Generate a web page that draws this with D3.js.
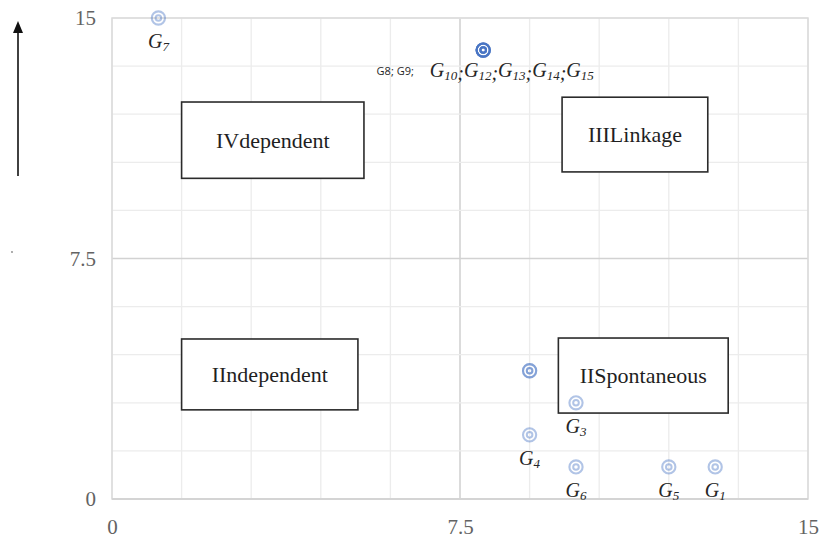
<!DOCTYPE html>
<html>
<head>
<meta charset="utf-8">
<script src="https://cdnjs.cloudflare.com/ajax/libs/d3/7.8.5/d3.min.js"></script>
<style>
  html, body { margin: 0; padding: 0; background: #ffffff; }
  svg { display: block; }
</style>
</head>
<body>
<script>
// ---------- data ----------
const pointNames = ["G1", "G2", "G3", "G4", "G5", "G6", "G7", "G8", "G9", "G10", "G11", "G12", "G13", "G14", "G15"];
const pointX     = [13,   9,    10,   9,    12,   10,   1,    8,    8,    8,     9,     8,     8,     8,     8];
const pointY     = [1,    4,    3,    2,    1,    1,    15,   14,   14,   14,    4,     14,    14,    14,    14];

// single labels (point name -> shown label)
const singleLabels = ["G1", "G3", "G4", "G5", "G6", "G7"];
// combined label at the G8..G15 cluster
const clusterSmall = ["G8", "G9"];
const clusterItalic = ["G10", "G12", "G13", "G14", "G15"];

const xTickValues = [0, 7.5, 15];
const yTickValues = [0, 7.5, 15];
const tickLabels  = ["0", "7.5", "15"];

// quadrant boxes (in data units)
const boxNames = ["IVdependent", "IIILinkage", "IIndependent", "IISpontaneous"];
const boxX0 = [1.5, 9.7, 1.5, 9.62];
const boxX1 = [5.43, 12.84, 5.3, 13.28];
const boxY0 = [10.0, 10.2, 2.78, 2.68];
const boxY1 = [12.38, 12.53, 4.99, 5.02];

// ---------- drawing ----------
const W = 819, H = 540;
const svg = d3.select("body").append("svg").attr("width", W).attr("height", H);

const x = d3.scaleLinear().domain([0, 15]).range([112, 808]);
const y = d3.scaleLinear().domain([0, 15]).range([499, 18]);

const grid = d3.range(0, 15.001, 1.5);

// gridlines
svg.append("g").selectAll("line.v").data(grid).join("line")
  .attr("x1", d => x(d)).attr("x2", d => x(d))
  .attr("y1", y(15)).attr("y2", y(0))
  .attr("stroke", d => d === 7.5 ? "#d2d2d2" : "#ececec")
  .attr("stroke-width", d => d === 7.5 ? 1.6 : 1.3);
svg.append("g").selectAll("line.h").data(grid).join("line")
  .attr("y1", d => y(d)).attr("y2", d => y(d))
  .attr("x1", x(0)).attr("x2", x(15))
  .attr("stroke", d => d === 7.5 ? "#d2d2d2" : "#ececec")
  .attr("stroke-width", d => d === 7.5 ? 1.6 : 1.3);

// frame
svg.append("rect")
  .attr("x", x(0)).attr("y", y(15))
  .attr("width", x(15) - x(0)).attr("height", y(0) - y(15))
  .attr("fill", "none").attr("stroke", "#dadada").attr("stroke-width", 1.5);
svg.append("line")
  .attr("x1", x(0)).attr("x2", x(15)).attr("y1", y(0)).attr("y2", y(0))
  .attr("stroke", "#d4d4d4").attr("stroke-width", 2);

// axes (tick labels only)
const xAxis = d3.axisBottom(x).tickValues(xTickValues)
  .tickFormat((d, i) => tickLabels[i]).tickSize(0).tickPadding(20);
const gx = svg.append("g").attr("transform", `translate(0,${y(0)})`).call(xAxis);
gx.select(".domain").remove();
gx.selectAll("text").attr("font-family", "'Liberation Serif', 'Times New Roman', serif")
  .attr("font-size", 21).attr("fill", "#636363");

const yAxis = d3.axisLeft(y).tickValues(yTickValues)
  .tickFormat((d, i) => tickLabels[i]).tickSize(0).tickPadding(16);
const gy = svg.append("g").attr("transform", `translate(${x(0)},0)`).call(yAxis);
gy.select(".domain").remove();
gy.selectAll("text").attr("font-family", "'Liberation Serif', 'Times New Roman', serif")
  .attr("font-size", 21).attr("fill", "#636363");

// quadrant boxes
const boxes = svg.append("g").selectAll("g").data(boxNames).join("g");
boxes.append("rect")
  .attr("x", (d, i) => x(boxX0[i])).attr("y", (d, i) => y(boxY1[i]))
  .attr("width", (d, i) => x(boxX1[i]) - x(boxX0[i]))
  .attr("height", (d, i) => y(boxY0[i]) - y(boxY1[i]))
  .attr("fill", "#ffffff").attr("stroke", "#2b2b2b").attr("stroke-width", 1.6);
boxes.append("text")
  .attr("x", (d, i) => (x(boxX0[i]) + x(boxX1[i])) / 2)
  .attr("y", (d, i) => (y(boxY0[i]) + y(boxY1[i])) / 2)
  .attr("dy", "0.35em")
  .attr("text-anchor", "middle")
  .attr("font-family", "'Liberation Serif', 'Times New Roman', serif")
  .attr("font-size", 22).attr("fill", "#1f1f1f")
  .text(d => d);

// points: double-ring markers, translucent so overlaps darken
const pts = svg.append("g").selectAll("g").data(pointNames).join("g")
  .attr("transform", (d, i) => `translate(${x(pointX[i])},${y(pointY[i])})`);
pts.append("circle").attr("r", 6.6).attr("fill", "none")
  .attr("stroke", "#4472c4").attr("stroke-opacity", 0.42).attr("stroke-width", 2.1);
pts.append("circle").attr("r", 2.8).attr("fill", "none")
  .attr("stroke", "#4472c4").attr("stroke-opacity", 0.42).attr("stroke-width", 2);

// single labels
const labelFont = "'Liberation Serif', 'Times New Roman', serif";
singleLabels.forEach(name => {
  const i = pointNames.indexOf(name);
  const t = svg.append("text")
    .attr("x", x(pointX[i])).attr("y", y(pointY[i]) + 30)
    .attr("text-anchor", "middle")
    .attr("font-family", labelFont).attr("font-style", "italic")
    .attr("font-size", 20).attr("fill", "#262626");
  t.append("tspan").text(name[0]);
  t.append("tspan").attr("font-size", 13).attr("dy", 3).text(name.slice(1));
});

// cluster label
{
  const i = pointNames.indexOf("G10");
  const t = svg.append("text")
    .attr("x", x(pointX[i]) + 2).attr("y", y(pointY[i]) + 27)
    .attr("text-anchor", "middle")
    .attr("fill", "#262626");
  t.append("tspan").attr("font-family", "'Open Sans', 'DejaVu Sans', sans-serif")
    .attr("font-size", 11).attr("dy", -2)
    .text(clusterSmall.map(g => g + ";").join(" "));
  clusterItalic.forEach((g, k) => {
    t.append("tspan").attr("font-family", labelFont).attr("font-style", "italic")
      .attr("font-size", 20).attr("dy", k === 0 ? 2 : -3).attr("dx", k === 0 ? 16 : 0).text(g[0]);
    t.append("tspan").attr("font-family", labelFont).attr("font-style", "italic")
      .attr("font-size", 13).attr("dy", 3).text(g.slice(1));
    if (k < clusterItalic.length - 1) {
      t.append("tspan").attr("font-family", labelFont).attr("font-style", "italic")
        .attr("font-size", 20).attr("dy", 0).text(";");
    }
  });
}

// vertical arrow on the left
svg.append("line")
  .attr("x1", 18).attr("x2", 18).attr("y1", 176).attr("y2", 31)
  .attr("stroke", "#111").attr("stroke-width", 1.6);
svg.append("path")
  .attr("d", "M18,21 L13,33 L23,33 Z").attr("fill", "#111");
// tiny stray dot
svg.append("circle").attr("cx", 12).attr("cy", 252).attr("r", 0.9).attr("fill", "#888");
</script>
</body>
</html>
